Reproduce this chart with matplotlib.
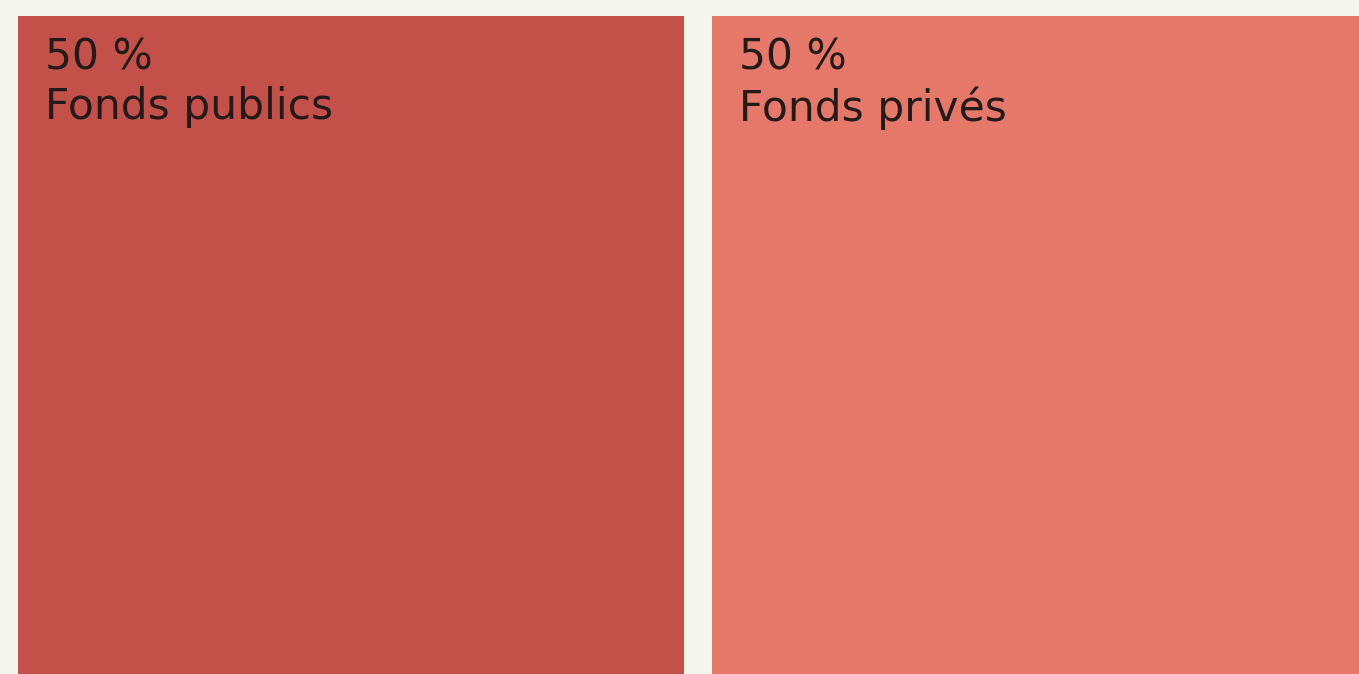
import matplotlib
matplotlib.use("Agg")
import matplotlib.pyplot as plt
from matplotlib.patches import Rectangle

# data
labels = ["Fonds publics", "Fonds privés"]
shares = [50, 50]
colors = ["#c4504a", "#e57869"]

W, H, DPI = 1359, 674, 100
gap = 2.0                 # space between tiles, in share units
px_per_unit = 13.875      # tile scale
left_px, top_px = 18, 16  # where the first tile starts in the image

fig = plt.figure(figsize=(W / DPI, H / DPI), dpi=DPI, facecolor="#f5f5f0")
ax = fig.add_axes([0, 0, 1, 1])
ax.set_facecolor("#f5f5f0")

start = 0
for lab, val, col in zip(labels, shares, colors):
    x = start + gap / 2
    w = val - gap
    ax.add_patch(Rectangle((x, 0), w, 100, facecolor=col, edgecolor="none"))
    ax.annotate(f"{val} %\n{lab}", xy=(x, 100), xytext=(27, -21),
                textcoords="offset pixels", ha="left", va="top",
                fontsize=30.5, color="#231a1a", linespacing=1.22,
                annotation_clip=False)
    start += val

x0 = gap / 2 - left_px / px_per_unit
ax.set_xlim(x0, x0 + W / px_per_unit)
ytop = 100 + top_px / px_per_unit
ax.set_ylim(ytop - H / px_per_unit, ytop)
ax.margins(0)
ax.axis("off")
fig.savefig("out.png", dpi=DPI, facecolor=fig.get_facecolor())
